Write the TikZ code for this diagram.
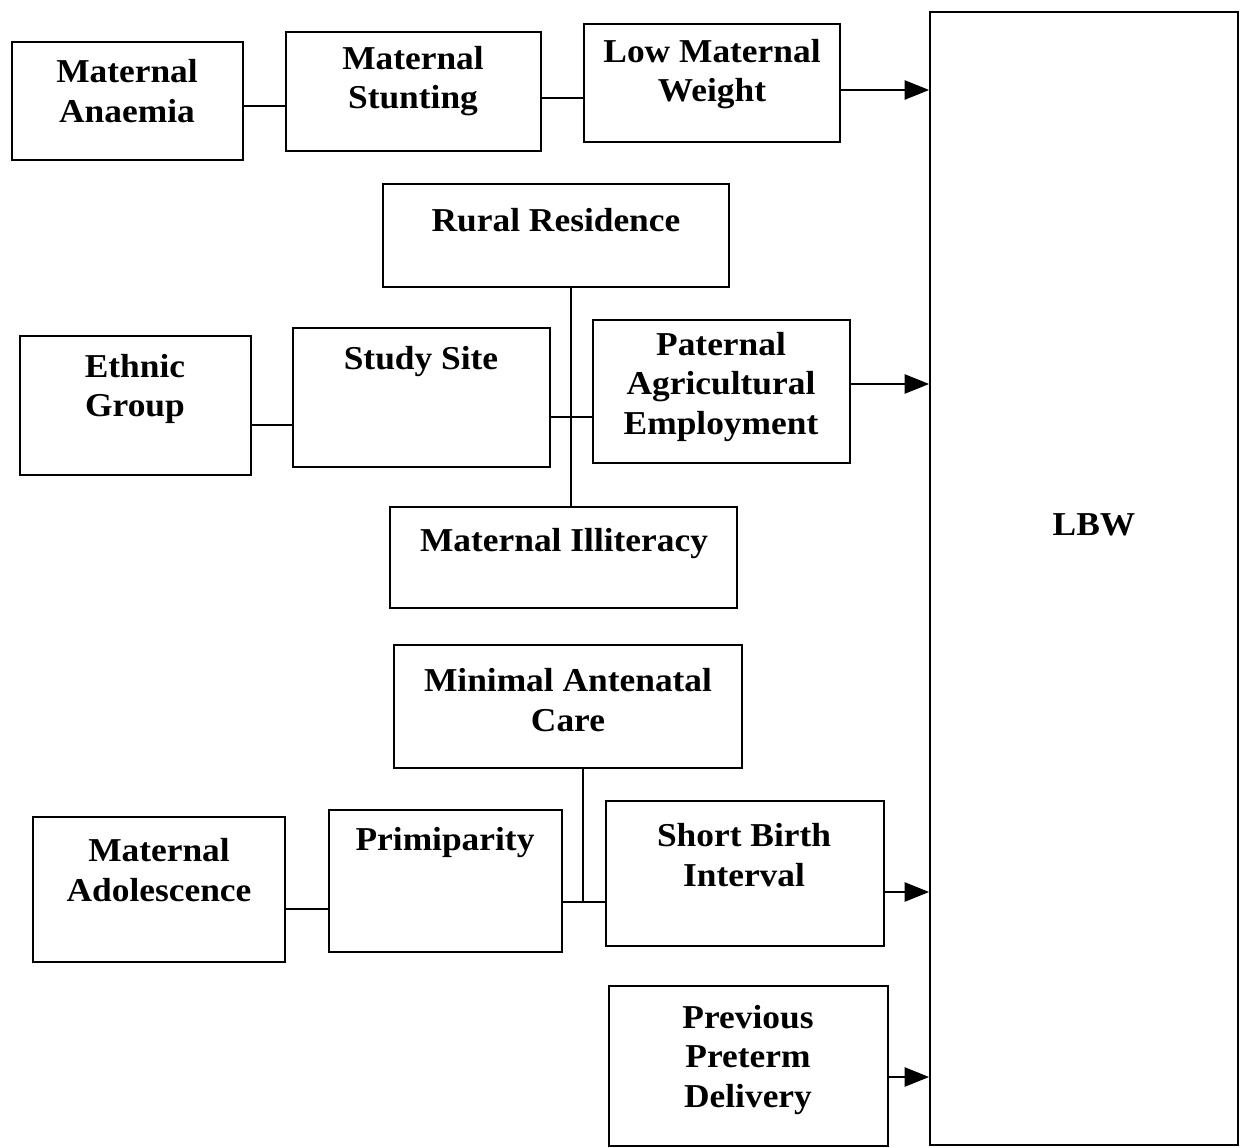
\documentclass[tikz,border=0pt]{standalone}
\usepackage{fontspec}
\setmainfont[FakeStretch=1.06]{Liberation Serif}
\usetikzlibrary{fit,arrows.meta}
\begin{document}
\begin{tikzpicture}[x=0.02cm,y=-0.02cm,
  box/.style={draw, line width=1pt, inner sep=0pt, rectangle},
  txt/.style={font=\fontsize{19}{22.5}\selectfont\bfseries, align=center, inner sep=0pt},
  link/.style={line width=1pt},
  arr/.style={line width=1pt, -{Triangle[length=14pt,width=11pt]}}]
\useasboundingbox (0,0) rectangle (1250,1148);
% boxes
\node[box, fit={(12,42)(243,160)}] (anaemia) {};
\node[box, fit={(286,32)(541,151)}] (stunting) {};
\node[box, fit={(584,24)(840,142)}] (lowweight) {};
\node[box, fit={(930,12)(1238,1145)}] (lbw) {};
\node[box, fit={(383,184)(729,287)}] (rural) {};
\node[box, fit={(20,336)(251,475)}] (ethnic) {};
\node[box, fit={(293,328)(550,467)}] (site) {};
\node[box, fit={(593,320)(850,463)}] (paternal) {};
\node[box, fit={(390,507)(737,608)}] (illiteracy) {};
\node[box, fit={(394,645)(742,768)}] (antenatal) {};
\node[box, fit={(33,817)(285,962)}] (adolescence) {};
\node[box, fit={(329,810)(562,952)}] (primiparity) {};
\node[box, fit={(606,801)(884,946)}] (shortbirth) {};
\node[box, fit={(609,986)(888,1146)}] (preterm) {};
% texts
\node[txt] (t1) at (127,91) {Maternal\\Anaemia};
\node[txt] (t2) at (413,81) {Maternal\\Stunting};
\node[txt] (t3) at (712,74) {Low Maternal\\Weight};
\node[txt] (t4) at (1094,525) {LBW};
\node[txt] (t5) at (556,220) {Rural Residence};
\node[txt] (t6) at (135,389) {Ethnic\\Group};
\node[txt] (t7) at (421,362) {Study Site};
\node[txt] (t8) at (721,387) {Paternal\\Agricultural\\Employment};
\node[txt] (t9) at (564,544) {Maternal Illiteracy};
\node[txt] (t10) at (568,700) {Minimal Antenatal\\Care};
\node[txt] (t11) at (159,870) {Maternal\\Adolescence};
\node[txt] (t12) at (445,843) {Primiparity};
\node[txt] (t13) at (744,855) {Short Birth\\Interval};
\node[txt] (t14) at (748,1060) {Previous\\Preterm\\Delivery};
% coordinates
\coordinate (j1) at (571,417);
\coordinate (j2) at (583,902);
% connectors
\draw[link] (anaemia.east |- 0,106) -- (stunting.west |- 0,106);
\draw[link] (stunting.east |- 0,98) -- (lowweight.west |- 0,98);
\draw[arr] (lowweight.east |- 0,90) -- (lbw.west |- 0,90);
\draw[link] (ethnic.east |- 0,425) -- (site.west |- 0,425);
\draw[link] (site.east |- j1) -- (paternal.west |- j1);
\draw[link] (rural.south -| j1) -- (illiteracy.north -| j1);
\draw[arr] (paternal.east |- 0,384) -- (lbw.west |- 0,384);
\draw[link] (adolescence.east |- 0,909) -- (primiparity.west |- 0,909);
\draw[link] (primiparity.east |- j2) -- (shortbirth.west |- j2);
\draw[link] (antenatal.south -| j2) -- (j2);
\draw[arr] (shortbirth.east |- 0,892) -- (lbw.west |- 0,892);
\draw[arr] (preterm.east |- 0,1077) -- (lbw.west |- 0,1077);
\end{tikzpicture}
\end{document}
